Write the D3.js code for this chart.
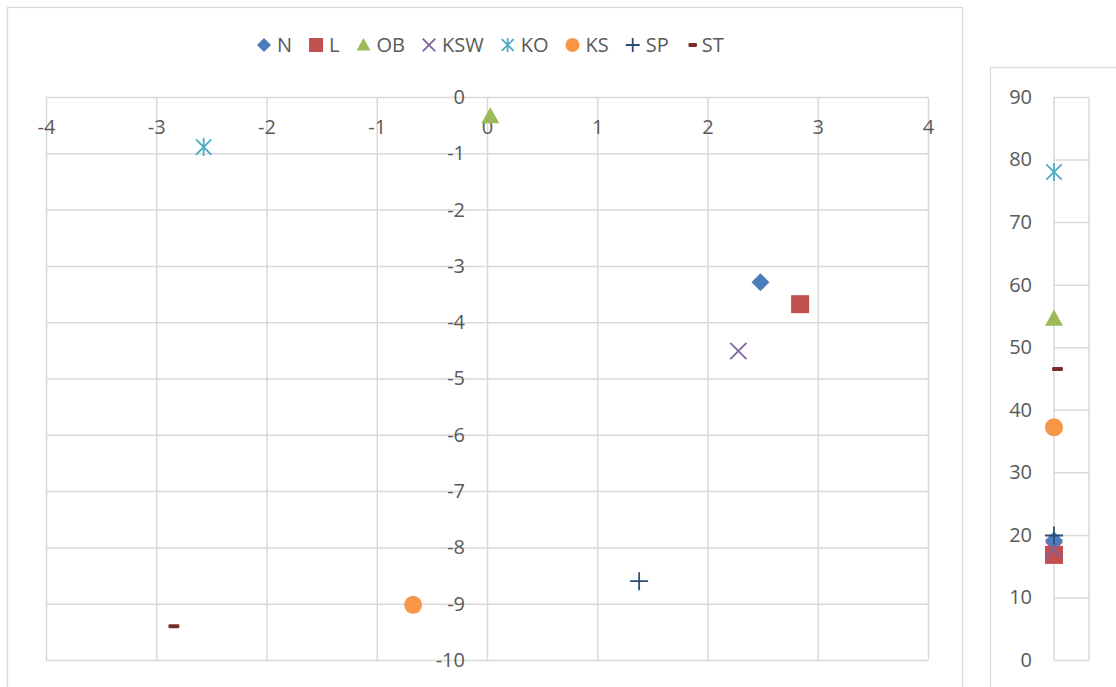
<!DOCTYPE html>
<html>
<head>
<meta charset="utf-8">
<script src="https://cdn.jsdelivr.net/npm/d3@7"></script>
<style>
  body { margin: 0; background: #fff; }
  text { font-family: "Open Sans", sans-serif; fill: #595959; }
</style>
</head>
<body>
<script>
const width = 1116;
const height = 687;

// series names, colours and marker kinds
const series = ["N", "L", "OB", "KSW", "KO", "KS", "SP", "ST"];
const colors = ["#4a7ebb", "#c0504d", "#9bbb59", "#8064a2", "#4bacc6", "#f79646", "#2c4d75", "#772c2a"];
const markers = ["diamond", "square", "triangle", "x", "star", "circle", "plus", "dash"];

// main scatter values
const xValues = [2.48, 2.84, 0.03, 2.28, -2.57, -0.67, 1.38, -2.84];
const yValues = [-3.29, -3.68, -0.34, -4.51, -0.89, -9.02, -8.6, -9.40];

// side chart values
const sideX = [0, 0, 0, 0, 0, 0, 0, 0.1];
const sideY = [19.1, 16.8, 54.6, 17.6, 78.0, 37.2, 19.9, 46.5];

const xTicks = [-4, -3, -2, -1, 0, 1, 2, 3, 4];
const yTicks = [0, -1, -2, -3, -4, -5, -6, -7, -8, -9, -10];
const sideTicks = [0, 10, 20, 30, 40, 50, 60, 70, 80, 90];

const svg = d3.select("body").append("svg")
  .attr("width", width)
  .attr("height", height);

const grid = "#d9d9d9";
const fmt = d => String(d); // plain hyphen, like Excel

// chart frames
svg.append("rect")
  .attr("x", 7.5).attr("y", 7.5)
  .attr("width", 955).attr("height", 720)
  .attr("fill", "none").attr("stroke", grid).attr("stroke-width", 1.3);

svg.append("rect")
  .attr("x", 990.5).attr("y", 67.5)
  .attr("width", 200).attr("height", 700)
  .attr("fill", "none").attr("stroke", grid).attr("stroke-width", 1.3);

// scales
const x = d3.scaleLinear().domain([-4, 4]).range([46, 928]);
const y = d3.scaleLinear().domain([-10, 0]).range([660, 97]);
const xs = d3.scaleLinear().domain([0, 1]).range([1054, 1089]);
const ys = d3.scaleLinear().domain([0, 90]).range([660, 97]);

// gridlines main
svg.append("g")
  .attr("transform", `translate(0,${y(-10)})`)
  .call(d3.axisBottom(x).tickValues(xTicks).tickSize(-(y(-10) - y(0))).tickFormat(""))
  .call(g => g.select(".domain").remove())
  .call(g => g.selectAll("line").attr("stroke", grid).attr("stroke-width", 1.5));

svg.append("g")
  .attr("transform", `translate(${x(-4)},0)`)
  .call(d3.axisLeft(y).tickValues(yTicks).tickSize(-(x(4) - x(-4))).tickFormat(""))
  .call(g => g.select(".domain").remove())
  .call(g => g.selectAll("line").attr("stroke", grid).attr("stroke-width", 1.5));

// tick labels main
svg.append("g")
  .attr("transform", `translate(0,${y(0)})`)
  .call(d3.axisBottom(x).tickValues(xTicks).tickSize(0).tickPadding(23).tickFormat(fmt))
  .call(g => g.select(".domain").remove())
  .call(g => g.selectAll("text").attr("font-size", 20).attr("fill", "#595959").attr("font-family", null));

svg.append("g")
  .attr("transform", `translate(${x(0) - 22},0)`)
  .call(d3.axisLeft(y).tickValues(yTicks).tickSize(0).tickPadding(0).tickFormat(fmt))
  .call(g => g.select(".domain").remove())
  .call(g => g.selectAll("text").attr("font-size", 20).attr("fill", "#595959").attr("font-family", null));

// side chart grid
svg.append("g")
  .attr("transform", `translate(${xs(0)},0)`)
  .call(d3.axisLeft(ys).tickValues(sideTicks).tickSize(-(xs(1) - xs(0))).tickFormat(""))
  .call(g => g.select(".domain").remove())
  .call(g => g.selectAll("line").attr("stroke", grid).attr("stroke-width", 1.5));

[0, 1].forEach(v => {
  svg.append("line")
    .attr("x1", xs(v)).attr("x2", xs(v))
    .attr("y1", ys(0)).attr("y2", ys(90))
    .attr("stroke", grid).attr("stroke-width", 1.5);
});

svg.append("g")
  .attr("transform", `translate(${xs(0) - 22},0)`)
  .call(d3.axisLeft(ys).tickValues(sideTicks).tickSize(0).tickPadding(0).tickFormat(fmt))
  .call(g => g.select(".domain").remove())
  .call(g => g.selectAll("text").attr("font-size", 20).attr("fill", "#595959").attr("font-family", null));

// marker drawing
function drawMarker(g, kind, color, s) {
  const h = s / 2;
  if (kind === "diamond") {
    g.append("path").attr("d", `M0,${-h}L${h},0L0,${h}L${-h},0Z`).attr("fill", color);
  } else if (kind === "square") {
    g.append("rect").attr("x", -h).attr("y", -h).attr("width", s).attr("height", s).attr("fill", color);
  } else if (kind === "triangle") {
    g.append("path").attr("d", `M0,${-h}L${h},${h * 0.8}L${-h},${h * 0.8}Z`).attr("fill", color);
  } else if (kind === "circle") {
    g.append("circle").attr("r", h).attr("fill", color);
  } else if (kind === "x") {
    const a = h * 0.9;
    g.append("path").attr("d", `M${-a},${-a}L${a},${a}M${a},${-a}L${-a},${a}`)
      .attr("stroke", color).attr("stroke-width", 1.8).attr("fill", "none");
  } else if (kind === "star") {
    const a = h * 0.85;
    g.append("path").attr("d", `M${-a},${-a}L${a},${a}M${a},${-a}L${-a},${a}M0,${-h}L0,${h}`)
      .attr("stroke", color).attr("stroke-width", 1.8).attr("fill", "none");
  } else if (kind === "plus") {
    g.append("path").attr("d", `M${-h},0L${h},0M0,${-h}L0,${h}`)
      .attr("stroke", color).attr("stroke-width", 1.8).attr("fill", "none");
  } else if (kind === "dash") {
    g.append("rect").attr("x", -s * 0.3).attr("y", -2).attr("width", s * 0.6).attr("height", 4)
      .attr("rx", 1).attr("fill", color);
  }
}

// main points
series.forEach((name, i) => {
  const g = svg.append("g").attr("transform", `translate(${x(xValues[i])},${y(yValues[i])})`);
  drawMarker(g, markers[i], colors[i], 18);
});

// side points
series.forEach((name, i) => {
  const g = svg.append("g").attr("transform", `translate(${xs(sideX[i])},${ys(sideY[i])})`);
  drawMarker(g, markers[i], colors[i], 18);
});

// legend
const legend = svg.append("g").attr("transform", "translate(0,45)");
let cx = 264;
series.forEach((name, i) => {
  const item = legend.append("g").attr("transform", `translate(${cx},0)`);
  drawMarker(item, markers[i], colors[i], 14);
  const gap = markers[i] === "dash" ? 9 : 13;
  const t = item.append("text")
    .attr("x", gap).attr("dy", "0.35em")
    .attr("font-size", 20)
    .text(name);
  cx += gap + t.node().getComputedTextLength() + 24;
});
</script>
</body>
</html>
